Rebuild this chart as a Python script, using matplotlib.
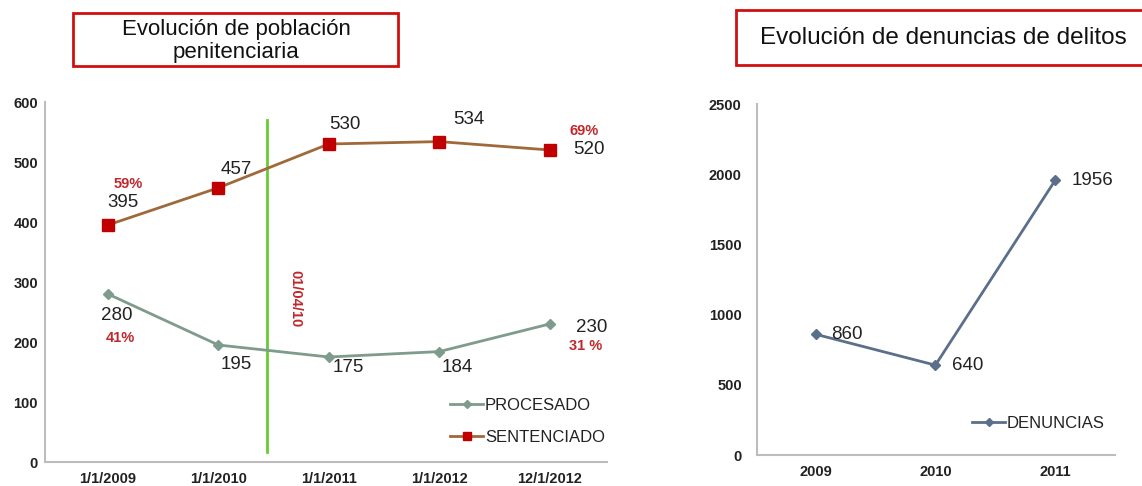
import matplotlib
matplotlib.use("Agg")
import matplotlib.pyplot as plt
from matplotlib.patches import Rectangle
from matplotlib.lines import Line2D

plt.rcParams['font.family'] = ['Liberation Sans', 'DejaVu Sans']

# ---- data ----
pen_dates = ["1/1/2009", "1/1/2010", "1/1/2011", "1/1/2012", "12/1/2012"]
procesado = [280, 195, 175, 184, 230]
sentenciado = [395, 457, 530, 534, 520]
pct_sent = {0: "59%", 4: "69%"}
pct_proc = {0: "41%", 4: "31 %"}
reform_label = "01/04/10"
reform_pos = 1.44  # between 1/1/2010 and 1/1/2011

den_years = ["2009", "2010", "2011"]
denuncias = [860, 640, 1956]

title_left = "Evolución de población\npenitenciaria"
title_right = "Evolución de denuncias de delitos"

W, H = 1142, 486
fig = plt.figure(figsize=(W / 100, H / 100), dpi=100)

def fx(px):
    return px / W

def fy(py):
    return 1 - py / H

spine_c = "#BDBDBD"
tick_c = "#222222"
red_txt = "#C0282D"
num_fs = 13.5
tick_fs = 10.5

# ---- left chart ----
axL = fig.add_axes([fx(45), fy(462), fx(607) - fx(45), fy(102) - fy(462)])
x = list(range(len(pen_dates)))
axL.plot(x, sentenciado, color="#A0693A", lw=2, marker="s", ms=8,
         mfc="#C00000", mec="#C00000", label="SENTENCIADO", zorder=3)
axL.plot(x, procesado, color="#7E9B8C", lw=2, marker="D", ms=5.5,
         mfc="#7E9B8C", mec="#7E9B8C", label="PROCESADO", zorder=3)
axL.set_xlim(-0.57, 4.52)
axL.set_ylim(0, 600)
axL.set_yticks([0, 100, 200, 300, 400, 500, 600])
axL.set_xticks(x)
axL.set_xticklabels(pen_dates, fontsize=tick_fs, fontweight="bold", color=tick_c)
for lab in axL.get_yticklabels():
    lab.set_fontsize(tick_fs)
    lab.set_fontweight("bold")
    lab.set_color(tick_c)
axL.tick_params(axis="x", length=0, pad=7)
axL.tick_params(axis="y", length=0, pad=5)
for s in ["top", "right"]:
    axL.spines[s].set_visible(False)
for s in ["left", "bottom"]:
    axL.spines[s].set_color(spine_c)
    axL.spines[s].set_linewidth(1.5)

# green reform line
axL.plot([reform_pos, reform_pos], [17, 570], color="#66CC33", lw=2, zorder=2)
axL.text(reform_pos + 0.255, 272, reform_label, rotation=270, color=red_txt,
         fontsize=10.5, fontweight="bold", ha="center", va="center")

# sentenciado labels (offsets in data units from each point)
sent_off = [(0.14, 37), (0.16, 31), (0.145, 32), (0.27, 36), (0.36, 0)]
for i, v in enumerate(sentenciado):
    dx, dy = sent_off[i]
    axL.text(i + dx, v + dy, str(v), fontsize=num_fs, color="#222222",
             ha="center", va="center")
axL.text(0 + 0.18, sentenciado[0] + 68, pct_sent[0], fontsize=10.5,
         fontweight="bold", color=red_txt, ha="center", va="center")
axL.text(4 + 0.31, sentenciado[4] + 32, pct_sent[4], fontsize=10.5,
         fontweight="bold", color=red_txt, ha="center", va="center")

proc_off = [(0.08, -35), (0.16, -32), (0.18, -18), (0.16, -27), (0.38, -5)]
for i, v in enumerate(procesado):
    dx, dy = proc_off[i]
    axL.text(i + dx, v + dy, str(v), fontsize=num_fs, color="#222222",
             ha="center", va="center")
axL.text(0 + 0.11, procesado[0] - 73, pct_proc[0], fontsize=10.5,
         fontweight="bold", color=red_txt, ha="center", va="center")
axL.text(4 + 0.33, procesado[4] - 37, pct_proc[4], fontsize=10.5,
         fontweight="bold", color=red_txt, ha="center", va="center")

handles = [
    Line2D([], [], color="#7E9B8C", lw=2, marker="D", ms=4.5,
           mfc="#7E9B8C", mec="#7E9B8C"),
    Line2D([], [], color="#A0693A", lw=2, marker="s", ms=5.5,
           mfc="#C00000", mec="#C00000"),
]
legL = axL.legend(handles, ["PROCESADO", "SENTENCIADO"], loc="center left",
                  bbox_to_anchor=((450 - 45) / 562, (462 - 421.5) / 360),
                  frameon=False, fontsize=12, borderpad=0, borderaxespad=0,
                  handlelength=2.0, handletextpad=0.1, labelspacing=1.05)
for t in legL.get_texts():
    t.set_color("#222222")

# ---- right chart ----
axR = fig.add_axes([fx(757), fy(455), fx(1115) - fx(757), fy(104) - fy(455)])
xr = list(range(len(den_years)))
axR.plot(xr, denuncias, color="#5B6F8A", lw=2, marker="D", ms=5.5,
         mfc="#5B6F8A", mec="#5B6F8A", zorder=3)
axR.set_xlim(-0.49, 2.5)
axR.set_ylim(0, 2500)
axR.set_yticks([0, 500, 1000, 1500, 2000, 2500])
axR.set_xticks(xr)
axR.set_xticklabels(den_years, fontsize=tick_fs, fontweight="bold", color=tick_c)
for lab in axR.get_yticklabels():
    lab.set_fontsize(tick_fs)
    lab.set_fontweight("bold")
    lab.set_color(tick_c)
axR.tick_params(axis="x", length=0, pad=7)
axR.tick_params(axis="y", length=0, pad=11)
for s in ["top", "right"]:
    axR.spines[s].set_visible(False)
for s in ["left", "bottom"]:
    axR.spines[s].set_color(spine_c)
    axR.spines[s].set_linewidth(1.5)

den_off = [(0.26, 0), (0.27, -5), (0.31, 0)]
for i, v in enumerate(denuncias):
    dx, dy = den_off[i]
    axR.text(i + dx, v + dy, str(v), fontsize=num_fs, color="#222222",
             ha="center", va="center")

hR = [Line2D([], [], color="#5B6F8A", lw=2, marker="D", ms=4.5,
             mfc="#5B6F8A", mec="#5B6F8A")]
legR = axR.legend(hR, ["DENUNCIAS"], loc="center left",
                  bbox_to_anchor=((972 - 757) / 358, (455 - 423) / 351),
                  frameon=False, fontsize=12, borderpad=0, borderaxespad=0,
                  handlelength=2.0, handletextpad=0.1)
for t in legR.get_texts():
    t.set_color("#222222")

# ---- title boxes ----
fig.patches.append(Rectangle((fx(73), fy(66)), fx(398) - fx(73), fy(13) - fy(66),
                             transform=fig.transFigure, fill=True, fc="white",
                             ec="#D01010", lw=2))
fig.text(fx(236), fy(41), title_left, ha="center", va="center", fontsize=16,
         color="#111111", linespacing=1.15)
fig.patches.append(Rectangle((fx(736), fy(65)), fx(1160) - fx(736), fy(10) - fy(65),
                             transform=fig.transFigure, fill=True, fc="white",
                             ec="#D01010", lw=2, clip_on=False))
fig.text(fx(943), fy(38), title_right, ha="center", va="center", fontsize=17.5,
         color="#111111")

fig.savefig("out.png", dpi=100)
